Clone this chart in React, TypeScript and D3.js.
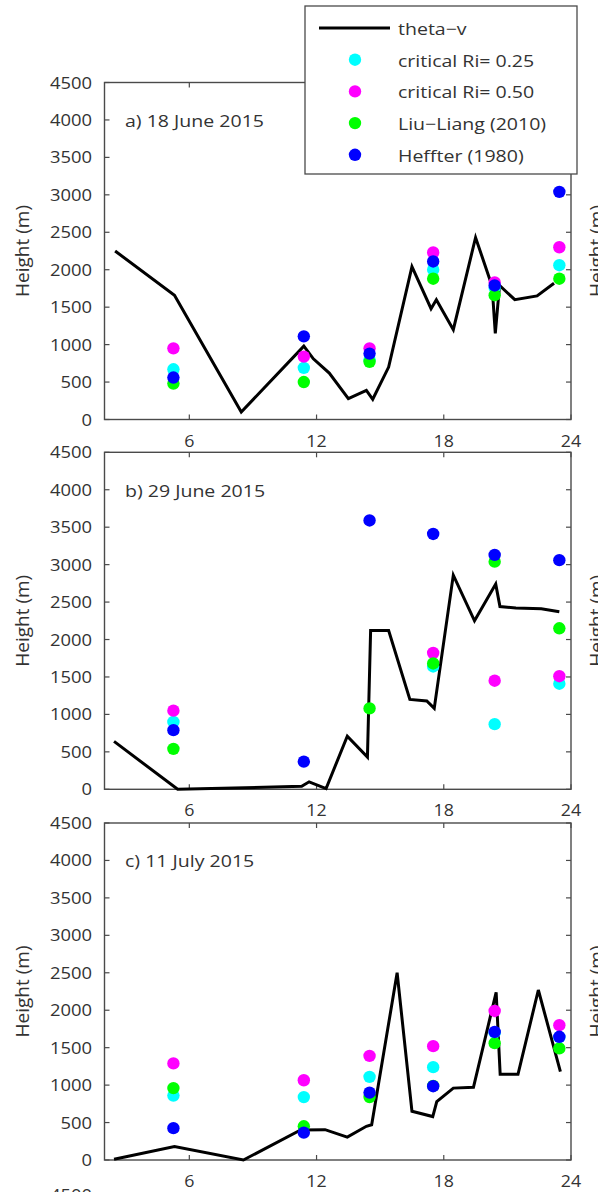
import * as d3 from 'd3';

// hours of the radiosonde launches (x of the markers)
const soundingHours = [5.25, 11.4, 14.5, 17.5, 20.4, 23.45];

const panelTitles = ['a) 18 June 2015', 'b) 29 June 2015', 'c) 11 July 2015'];

// theta-v line, one pair of arrays per panel
const thetaHoursA = [2.5, 5.3, 8.45, 11.4, 11.85, 12.6, 13.5, 14.35, 14.65, 15.4, 16.5, 17.4, 17.65, 18.45, 19.5, 20.28, 20.43, 20.63, 21.35, 22.4, 23.2];
const thetaA = [2250, 1660, 100, 980, 810, 620, 280, 390, 270, 700, 2040, 1480, 1600, 1200, 2430, 1780, 1150, 1790, 1600, 1650, 1820];
const thetaHoursB = [2.45, 5.45, 11.3, 11.65, 12.45, 13.45, 14.4, 14.55, 15.4, 16.4, 17.2, 17.55, 18.45, 19.45, 20.45, 20.65, 21.4, 22.6, 23.45];
const thetaB = [640, 0, 40, 100, 10, 710, 430, 2120, 2120, 1200, 1180, 1080, 2860, 2250, 2740, 2440, 2420, 2410, 2370];
const thetaHoursC = [2.45, 5.3, 8.55, 11.25, 12.4, 13.45, 14.35, 14.6, 15.8, 16.5, 17.48, 17.67, 18.45, 19.4, 20.47, 20.66, 21.5, 22.46, 23.5];
const thetaC = [10, 180, 0, 400, 405, 305, 450, 470, 2500, 650, 580, 780, 960, 970, 2240, 1145, 1145, 2270, 1180];

// boundary layer heights at the sounding hours (null = not shown)
const ri25A = [670, 690, 800, 2000, 1760, 2060];
const ri50A = [950, 840, 950, 2230, 1830, 2300];
const liuA = [480, 500, 770, 1880, 1660, 1880];
const hefA = [560, 1110, 880, 2110, 1790, 3040];

const ri25B = [900, null, null, 1640, 870, 1410];
const ri50B = [1050, null, null, 1820, 1450, 1510];
const liuB = [540, null, 1080, 1680, 3040, 2150];
const hefB = [790, 370, 3590, 3410, 3130, 3060];

const ri25C = [860, 840, 1110, 1240, 1700, 1640];
const ri50C = [1290, 1065, 1390, 1520, 1990, 1800];
const liuC = [960, 450, 840, 990, 1560, 1490];
const hefC = [425, 365, 900, 985, 1710, 1645];

const yTicks = [0, 500, 1000, 1500, 2000, 2500, 3000, 3500, 4000, 4500];
const xTicks = [6, 12, 18, 24];

const seriesNames = ['theta\u2212v', 'critical Ri= 0.25', 'critical Ri= 0.50', 'Liu\u2212Liang (2010)', 'Heffter (1980)'];
const seriesColors = ['#000000', '#00ffff', '#ff00ff', '#00ff00', '#0000ff'];

const panels = [
  { hours: thetaHoursA, theta: thetaA, dots: [ri25A, ri50A, liuA, hefA] },
  { hours: thetaHoursB, theta: thetaB, dots: [ri25B, ri50B, liuB, hefB] },
  { hours: thetaHoursC, theta: thetaC, dots: [ri25C, ri50C, liuC, hefC] },
];

const FONT = "'Open Sans', 'DejaVu Sans', sans-serif";
const INK = '#333';
const AXIS = '#4a4a4a';

function T({ x, y, children, anchor = 'start', size = 16, sx = 1.15, rotate = 0 }: any) {
  return (
    <text
      transform={`translate(${x},${y}) rotate(${rotate}) scale(${sx},1)`}
      textAnchor={anchor}
      dominantBaseline="central"
      fontFamily={FONT}
      fontSize={size}
      fill={INK}
    >
      {children}
    </text>
  );
}

export default function App() {
  const W = 598;
  const H = 1192;
  const left = 104.5;
  const right = 571;
  const bottoms = [419.5, 789.3, 1160];
  const ph = 337;

  const x = d3.scaleLinear().domain([2, 24]).range([left, right]);

  return (
    <svg width={W} height={H} style={{ position: 'absolute', left: 0, top: 0, background: '#fff' }}>
      <rect width={W} height={H} fill="#fff" />
      {panels.map((p, i) => {
        const y = d3.scaleLinear().domain([0, 4500]).range([bottoms[i], bottoms[i] - ph]);
        const top = bottoms[i] - ph;
        const line = d3.line<number>()
          .x((_, k) => x(p.hours[k]))
          .y(d => y(d));
        const midY = (top + bottoms[i]) / 2;
        return (
          <g key={i}>
            <rect x={left} y={top} width={right - left} height={ph} fill="none" stroke={AXIS} strokeWidth={1.4} />
            {yTicks.map(t => (
              <g key={t}>
                <line x1={left} x2={left + 5} y1={y(t)} y2={y(t)} stroke={AXIS} strokeWidth={1.2} />
                <line x1={right - 5} x2={right} y1={y(t)} y2={y(t)} stroke={AXIS} strokeWidth={1.2} />
                <T x={92} y={y(t)} anchor="end">{t}</T>
              </g>
            ))}
            {xTicks.map(t => (
              <g key={t}>
                <line x1={x(t)} x2={x(t)} y1={bottoms[i]} y2={bottoms[i] - 5} stroke={AXIS} strokeWidth={1.2} />
                <line x1={x(t)} x2={x(t)} y1={top} y2={top + 5} stroke={AXIS} strokeWidth={1.2} />
                <T x={x(t)} y={bottoms[i] + 21} anchor="middle" size={15.5}>{t}</T>
              </g>
            ))}
            <T x={22} y={midY} anchor="middle" rotate={-90} sx={1} size={19}>Height (m)</T>
            {/* label of the neighbouring figure, cut by the page edge as in the source */}
            <T x={596} y={midY} anchor="middle" rotate={-90} sx={1} size={19}>Height (m)</T>
            <T x={125} y={y(4000)} size={17}>{panelTitles[i]}</T>
            <path d={line(p.theta) || ''} fill="none" stroke="#000" strokeWidth={3} />
            {p.dots.map((vals, s) => (
              <g key={s}>
                {vals.map((v, k) =>
                  v == null ? null : (
                    <circle key={k} cx={x(soundingHours[k])} cy={y(v)} r={6.2} fill={seriesColors[s + 1]} />
                  )
                )}
              </g>
            ))}
          </g>
        );
      })}
      {/* tick label of the next panel, cut by the page edge */}
      <T x={92} y={1195} anchor="end">4500</T>
      <g>
        <rect x={305} y={6} width={272} height={168} fill="#fff" stroke={AXIS} strokeWidth={1.3} />
        {seriesNames.map((name, i) => {
          const ry = 28 + i * 31.7;
          return (
            <g key={name}>
              {i === 0 ? (
                <line x1={319} x2={390} y1={ry} y2={ry} stroke="#000" strokeWidth={3} />
              ) : (
                <circle cx={355} cy={ry} r={6.2} fill={seriesColors[i]} />
              )}
              <T x={398} y={ry} size={17}>{name}</T>
            </g>
          );
        })}
      </g>
    </svg>
  );
}
